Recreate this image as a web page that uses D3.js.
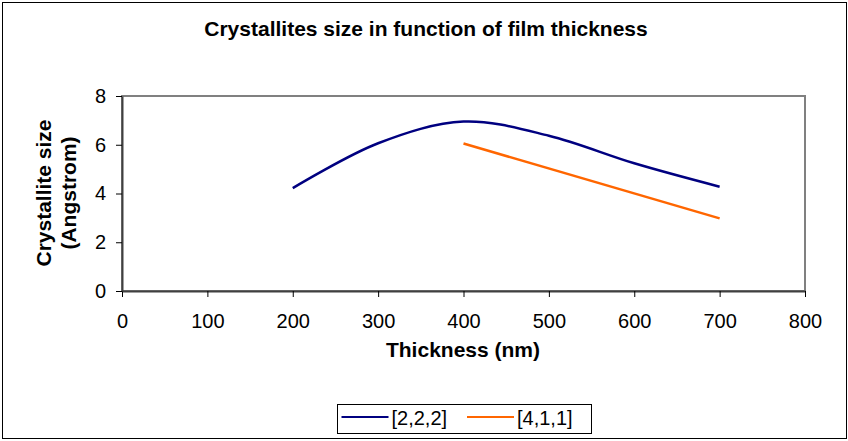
<!DOCTYPE html>
<html>
<head>
  <script src="https://d3js.org/d3.v7.min.js"></script>
  <style>
    body { margin: 0; background: #fff; }
    svg { display: block; font-family: Arial, "Liberation Sans", sans-serif; }
  </style>
</head>
<body>
  <svg id="chart" width="848" height="441"></svg>
  <script>
    // Data
    const thickness222 = [200, 300, 400, 500, 600, 700];
    const size222 = [4.22, 6.06, 6.95, 6.37, 5.24, 4.28];
    const thickness411 = [400, 700];
    const size411 = [6.05, 2.98];
    const xTicks = [0, 100, 200, 300, 400, 500, 600, 700, 800];
    const yTicks = [0, 2, 4, 6, 8];
    const seriesNames = ['[2,2,2]', '[4,1,1]'];
    const seriesColors = ['#000080', '#ff6600'];

    const svg = d3.select('#chart');
    const plotLeft = 122, plotRight = 805, plotTop = 96, plotBottom = 291;

    const x = d3.scaleLinear().domain([0, 800]).range([plotLeft, plotRight]);
    const y = d3.scaleLinear().domain([0, 8]).range([plotBottom, plotTop]);

    // outer chart border
    svg.append('rect')
      .attr('x', 2.5).attr('y', 2.5).attr('width', 844).attr('height', 436)
      .attr('fill', '#fff').attr('stroke', '#000').attr('stroke-width', 1);

    // plot area border
    svg.append('rect')
      .attr('x', plotLeft).attr('y', plotTop)
      .attr('width', plotRight - plotLeft).attr('height', plotBottom - plotTop)
      .attr('fill', 'none').attr('stroke', '#808080').attr('stroke-width', 2);

    // title
    svg.append('text')
      .attr('x', 426).attr('y', 36)
      .attr('text-anchor', 'middle')
      .style('font-size', '21px').style('font-weight', 'bold')
      .text('Crystallites size in function of film thickness');

    // axes
    const xAxis = svg.append('g')
      .attr('transform', `translate(0,${plotBottom})`)
      .call(d3.axisBottom(x).tickValues(xTicks).tickSize(6).tickSizeOuter(0).tickPadding(17));
    const yAxis = svg.append('g')
      .attr('transform', `translate(${plotLeft},0)`)
      .call(d3.axisLeft(y).tickValues(yTicks).tickSize(6).tickSizeOuter(0).tickPadding(10));

    [xAxis, yAxis].forEach(g => {
      g.select('.domain').attr('stroke', '#404040').attr('stroke-width', 2);
      g.selectAll('.tick line').attr('stroke', '#000');
      g.selectAll('.tick text')
        .attr('fill', '#000')
        .style('font-size', '20px')
        .style('font-family', 'Arial, "Liberation Sans", sans-serif');
    });

    // axis titles
    svg.append('text')
      .attr('x', 463).attr('y', 357)
      .attr('text-anchor', 'middle')
      .style('font-size', '21px').style('font-weight', 'bold')
      .text('Thickness (nm)');

    const yTitle = svg.append('text')
      .attr('transform', 'translate(51,193) rotate(-90)')
      .attr('text-anchor', 'middle')
      .style('font-size', '21px').style('font-weight', 'bold');
    yTitle.append('tspan').attr('x', 0).attr('dy', 0).text('Crystallite size');
    yTitle.append('tspan').attr('x', 0).attr('dy', 25).text('(Angstrom)');

    // lines
    const line222 = d3.line()
      .x(d => x(d[0])).y(d => y(d[1]))
      .curve(d3.curveCatmullRom.alpha(0.5));
    const line411 = d3.line().x(d => x(d[0])).y(d => y(d[1]));

    svg.append('path')
      .datum(d3.zip(thickness222, size222))
      .attr('d', line222)
      .attr('fill', 'none').attr('stroke', seriesColors[0]).attr('stroke-width', 2.5);
    svg.append('path')
      .datum(d3.zip(thickness411, size411))
      .attr('d', line411)
      .attr('fill', 'none').attr('stroke', seriesColors[1]).attr('stroke-width', 2.5);

    // legend
    const legend = svg.append('g');
    legend.append('rect')
      .attr('x', 337.5).attr('y', 404.5).attr('width', 254).attr('height', 29)
      .attr('fill', '#fff').attr('stroke', '#000');
    const legendItems = legend.selectAll('g.item')
      .data(seriesNames)
      .join('g')
      .attr('class', 'item')
      .attr('transform', (d, i) => `translate(${341.5 + i * 125.5},417)`);
    legendItems.append('line')
      .attr('x1', 0).attr('x2', 47).attr('y1', 0).attr('y2', 0)
      .attr('stroke', (d, i) => seriesColors[i]).attr('stroke-width', 2);
    legendItems.append('text')
      .attr('x', 50).attr('y', 8)
      .style('font-size', '20px')
      .text(d => d);
  </script>
</body>
</html>
